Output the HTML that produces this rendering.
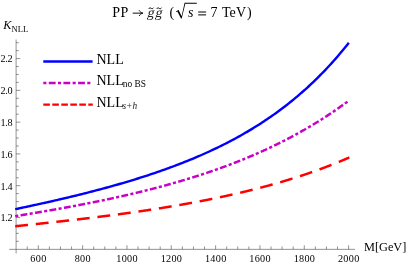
<!DOCTYPE html>
<html><head><meta charset="utf-8"><title>plot</title>
<style>html,body{margin:0;padding:0;background:#fff;overflow:hidden}body{width:407px;height:264px;position:relative;font-family:"Liberation Serif",serif}</style></head>
<body>
<svg width="407" height="264" viewBox="0 0 407 264" style="will-change:transform;position:absolute;left:0;top:0;font-family:'Liberation Serif',serif">
<rect width="407" height="264" fill="#fff"/>
<path d="M9.2,249.35 H355 M16.1,39.5 V253.5 M27.22,249.35 v-2.9 M38.30,249.35 v-4.1 M49.38,249.35 v-2.9 M60.46,249.35 v-2.9 M71.55,249.35 v-2.9 M82.63,249.35 v-4.1 M93.71,249.35 v-2.9 M104.79,249.35 v-2.9 M115.87,249.35 v-2.9 M126.96,249.35 v-4.1 M138.04,249.35 v-2.9 M149.12,249.35 v-2.9 M160.20,249.35 v-2.9 M171.28,249.35 v-4.1 M182.37,249.35 v-2.9 M193.45,249.35 v-2.9 M204.53,249.35 v-2.9 M215.61,249.35 v-4.1 M226.69,249.35 v-2.9 M237.78,249.35 v-2.9 M248.86,249.35 v-2.9 M259.94,249.35 v-4.1 M271.02,249.35 v-2.9 M282.10,249.35 v-2.9 M293.19,249.35 v-2.9 M304.27,249.35 v-4.1 M315.35,249.35 v-2.9 M326.43,249.35 v-2.9 M337.51,249.35 v-2.9 M348.60,249.35 v-4.1 M16.1,241.31 h2.65 M16.1,233.37 h2.65 M16.1,225.42 h2.65 M16.1,217.48 h4.15 M16.1,209.53 h2.65 M16.1,201.59 h2.65 M16.1,193.64 h2.65 M16.1,185.70 h4.15 M16.1,177.75 h2.65 M16.1,169.81 h2.65 M16.1,161.86 h2.65 M16.1,153.92 h4.15 M16.1,145.97 h2.65 M16.1,138.03 h2.65 M16.1,130.08 h2.65 M16.1,122.14 h4.15 M16.1,114.19 h2.65 M16.1,106.25 h2.65 M16.1,98.30 h2.65 M16.1,90.36 h4.15 M16.1,82.41 h2.65 M16.1,74.47 h2.65 M16.1,66.52 h2.65 M16.1,58.58 h4.15 M16.1,50.63 h2.65 M16.1,42.69 h2.65" fill="none" stroke="#505050" stroke-width="0.62"/>
<path d="M15.20,209.16 L16.87,208.81 L18.54,208.46 L20.20,208.11 L21.87,207.76 L23.54,207.41 L25.21,207.06 L26.88,206.71 L28.54,206.35 L30.21,205.99 L31.88,205.63 L33.55,205.27 L35.22,204.91 L36.88,204.55 L38.55,204.18 L40.22,203.82 L41.89,203.45 L43.56,203.08 L45.22,202.71 L46.89,202.34 L48.56,201.96 L50.23,201.59 L51.90,201.21 L53.56,200.83 L55.23,200.45 L56.90,200.06 L58.57,199.68 L60.24,199.29 L61.90,198.90 L63.57,198.51 L65.24,198.12 L66.91,197.72 L68.58,197.32 L70.24,196.92 L71.91,196.52 L73.58,196.12 L75.25,195.71 L76.92,195.30 L78.58,194.89 L80.25,194.48 L81.92,194.06 L83.59,193.65 L85.26,193.23 L86.92,192.80 L88.59,192.38 L90.26,191.95 L91.93,191.52 L93.60,191.09 L95.26,190.65 L96.93,190.21 L98.60,189.77 L100.27,189.33 L101.94,188.88 L103.60,188.43 L105.27,187.98 L106.94,187.53 L108.61,187.07 L110.28,186.61 L111.94,186.14 L113.61,185.67 L115.28,185.20 L116.95,184.73 L118.62,184.25 L120.28,183.77 L121.95,183.29 L123.62,182.80 L125.29,182.31 L126.96,181.81 L128.62,181.31 L130.29,180.81 L131.96,180.31 L133.63,179.80 L135.30,179.28 L136.96,178.77 L138.63,178.24 L140.30,177.72 L141.97,177.19 L143.64,176.65 L145.30,176.12 L146.97,175.57 L148.64,175.03 L150.31,174.48 L151.98,173.92 L153.64,173.36 L155.31,172.80 L156.98,172.23 L158.65,171.65 L160.32,171.07 L161.98,170.49 L163.65,169.90 L165.32,169.30 L166.99,168.70 L168.66,168.10 L170.32,167.49 L171.99,166.87 L173.66,166.25 L175.33,165.62 L177.00,164.99 L178.66,164.35 L180.33,163.71 L182.00,163.06 L183.67,162.40 L185.34,161.74 L187.00,161.07 L188.67,160.39 L190.34,159.71 L192.01,159.02 L193.68,158.33 L195.34,157.63 L197.01,156.92 L198.68,156.20 L200.35,155.48 L202.02,154.75 L203.68,154.01 L205.35,153.27 L207.02,152.51 L208.69,151.75 L210.36,150.99 L212.02,150.21 L213.69,149.43 L215.36,148.63 L217.03,147.83 L218.70,147.03 L220.36,146.21 L222.03,145.38 L223.70,144.55 L225.37,143.70 L227.04,142.85 L228.70,141.99 L230.37,141.12 L232.04,140.24 L233.71,139.34 L235.38,138.44 L237.04,137.53 L238.71,136.61 L240.38,135.68 L242.05,134.74 L243.72,133.79 L245.38,132.82 L247.05,131.85 L248.72,130.86 L250.39,129.87 L252.06,128.86 L253.72,127.84 L255.39,126.81 L257.06,125.76 L258.73,124.71 L260.40,123.64 L262.06,122.56 L263.73,121.46 L265.40,120.36 L267.07,119.24 L268.74,118.10 L270.40,116.95 L272.07,115.79 L273.74,114.62 L275.41,113.43 L277.08,112.22 L278.74,111.00 L280.41,109.77 L282.08,108.52 L283.75,107.25 L285.42,105.97 L287.08,104.68 L288.75,103.36 L290.42,102.03 L292.09,100.69 L293.76,99.32 L295.42,97.94 L297.09,96.55 L298.76,95.13 L300.43,93.70 L302.10,92.24 L303.76,90.77 L305.43,89.28 L307.10,87.77 L308.77,86.25 L310.44,84.70 L312.10,83.13 L313.77,81.54 L315.44,79.93 L317.11,78.30 L318.78,76.64 L320.44,74.97 L322.11,73.27 L323.78,71.55 L325.45,69.81 L327.12,68.04 L328.78,66.26 L330.45,64.44 L332.12,62.61 L333.79,60.74 L335.46,58.86 L337.12,56.94 L338.79,55.00 L340.46,53.04 L342.13,51.05 L343.80,49.03 L345.46,46.98 L347.13,44.91 L348.80,42.80" fill="none" stroke="#0000ff" stroke-width="2.4"/>
<path d="M15.20,216.19 L15.64,216.12 L16.07,216.05 L16.51,215.98 L16.95,215.91 L17.39,215.83 L17.82,215.76 L18.26,215.69 M20.58,215.31 L21.06,215.23 L21.55,215.15 L22.03,215.07 L22.51,214.99 L23.00,214.91 L23.48,214.83 L23.96,214.75 L24.45,214.67 L24.93,214.59 L25.41,214.51 L25.90,214.43 L26.38,214.35 L26.86,214.27 L27.35,214.19 M29.66,213.81 L30.10,213.73 L30.54,213.66 L30.98,213.59 L31.41,213.52 L31.85,213.44 L32.29,213.37 L32.72,213.30 M35.04,212.91 L35.52,212.83 L36.01,212.74 L36.49,212.66 L36.97,212.58 L37.46,212.50 L37.94,212.42 L38.42,212.34 L38.91,212.25 L39.39,212.17 L39.87,212.09 L40.35,212.01 L40.84,211.92 L41.32,211.84 L41.80,211.76 M44.12,211.36 L44.56,211.29 L44.99,211.21 L45.43,211.14 L45.87,211.06 L46.30,210.99 L46.74,210.91 L47.17,210.84 M49.49,210.43 L49.97,210.35 L50.46,210.27 L50.94,210.18 L51.42,210.10 L51.90,210.01 L52.39,209.93 L52.87,209.84 L53.35,209.76 L53.83,209.67 L54.32,209.59 L54.80,209.50 L55.28,209.42 L55.76,209.33 L56.25,209.25 M58.56,208.83 L59.00,208.76 L59.43,208.68 L59.87,208.60 L60.30,208.52 L60.74,208.44 L61.18,208.36 L61.61,208.29 M63.92,207.87 L64.41,207.78 L64.89,207.69 L65.37,207.60 L65.85,207.52 L66.33,207.43 L66.82,207.34 L67.30,207.25 L67.78,207.16 L68.26,207.07 L68.74,206.99 L69.23,206.90 L69.71,206.81 L70.19,206.72 L70.67,206.63 M72.98,206.20 L73.42,206.12 L73.85,206.04 L74.29,205.95 L74.72,205.87 L75.16,205.79 L75.59,205.71 L76.03,205.63 M78.34,205.19 L78.82,205.10 L79.30,205.00 L79.78,204.91 L80.26,204.82 L80.74,204.73 L81.22,204.64 L81.71,204.54 L82.19,204.45 L82.67,204.36 L83.15,204.26 L83.63,204.17 L84.11,204.08 L84.59,203.98 L85.07,203.89 M87.38,203.44 L87.81,203.35 L88.25,203.27 L88.68,203.18 L89.12,203.10 L89.55,203.01 L89.99,202.92 L90.42,202.84 M92.72,202.38 L93.20,202.28 L93.69,202.18 L94.17,202.09 L94.65,201.99 L95.13,201.89 L95.61,201.80 L96.09,201.70 L96.57,201.60 L97.05,201.50 L97.53,201.41 L98.01,201.31 L98.49,201.21 L98.97,201.11 L99.45,201.01 M101.75,200.54 L102.18,200.45 L102.62,200.36 L103.05,200.27 L103.48,200.18 L103.92,200.09 L104.35,199.99 L104.78,199.90 M107.08,199.42 L107.56,199.32 L108.04,199.21 L108.52,199.11 L109.00,199.01 L109.48,198.91 L109.96,198.81 L110.44,198.70 L110.92,198.60 L111.40,198.50 L111.87,198.39 L112.35,198.29 L112.83,198.19 L113.31,198.08 L113.79,197.98 M116.09,197.48 L116.52,197.38 L116.95,197.28 L117.38,197.19 L117.82,197.09 L118.25,197.00 L118.68,196.90 L119.11,196.81 M121.41,196.29 L121.88,196.19 L122.36,196.08 L122.84,195.97 L123.32,195.86 L123.80,195.75 L124.27,195.64 L124.75,195.54 L125.23,195.43 L125.71,195.32 L126.18,195.21 L126.66,195.10 L127.14,194.99 L127.62,194.88 L128.09,194.77 M130.38,194.24 L130.81,194.14 L131.25,194.03 L131.68,193.93 L132.11,193.83 L132.54,193.73 L132.97,193.63 L133.40,193.53 M135.69,192.98 L136.16,192.87 L136.64,192.76 L137.12,192.64 L137.59,192.53 L138.07,192.41 L138.55,192.30 L139.02,192.18 L139.50,192.07 L139.97,191.95 L140.45,191.83 L140.93,191.72 L141.40,191.60 L141.88,191.48 L142.35,191.37 M144.64,190.80 L145.06,190.70 L145.49,190.59 L145.92,190.48 L146.35,190.37 L146.78,190.27 L147.21,190.16 L147.64,190.05 M149.92,189.47 L150.40,189.35 L150.87,189.23 L151.34,189.11 L151.82,188.99 L152.29,188.86 L152.77,188.74 L153.24,188.62 L153.72,188.50 L154.19,188.37 L154.67,188.25 L155.14,188.13 L155.61,188.00 L156.09,187.88 L156.56,187.76 M158.83,187.16 L159.26,187.04 L159.69,186.93 L160.12,186.81 L160.55,186.70 L160.97,186.59 L161.40,186.47 L161.83,186.36 M164.10,185.74 L164.57,185.61 L165.04,185.48 L165.52,185.35 L165.99,185.23 L166.46,185.10 L166.93,184.97 L167.41,184.84 L167.88,184.70 L168.35,184.57 L168.82,184.44 L169.29,184.31 L169.77,184.18 L170.24,184.05 L170.71,183.92 M172.97,183.28 L173.40,183.16 L173.82,183.03 L174.25,182.91 L174.68,182.79 L175.10,182.67 L175.53,182.55 L175.95,182.43 M178.21,181.77 L178.68,181.64 L179.15,181.50 L179.62,181.36 L180.09,181.22 L180.56,181.08 L181.03,180.95 L181.50,180.81 L181.97,180.67 L182.44,180.53 L182.91,180.39 L183.38,180.25 L183.85,180.11 L184.32,179.97 L184.79,179.83 M187.04,179.15 L187.46,179.02 L187.88,178.89 L188.31,178.76 L188.73,178.63 L189.16,178.50 L189.58,178.37 L190.00,178.24 M192.25,177.54 L192.71,177.40 L193.18,177.25 L193.65,177.11 L194.12,176.96 L194.58,176.81 L195.05,176.66 L195.52,176.52 L195.99,176.37 L196.45,176.22 L196.92,176.07 L197.39,175.92 L197.85,175.77 L198.32,175.62 L198.79,175.47 M201.02,174.75 L201.44,174.61 L201.86,174.47 L202.28,174.33 L202.71,174.20 L203.13,174.06 L203.55,173.92 L203.97,173.78 M206.20,173.04 L206.66,172.88 L207.13,172.73 L207.59,172.57 L208.05,172.41 L208.52,172.26 L208.98,172.10 L209.45,171.94 L209.91,171.78 L210.37,171.63 L210.84,171.47 L211.30,171.31 L211.76,171.15 L212.23,170.99 L212.69,170.83 M214.91,170.06 L215.33,169.91 L215.75,169.76 L216.16,169.62 L216.58,169.47 L217.00,169.32 L217.42,169.17 L217.83,169.03 M220.05,168.24 L220.51,168.07 L220.97,167.90 L221.43,167.74 L221.89,167.57 L222.35,167.40 L222.81,167.23 L223.27,167.07 L223.73,166.90 L224.19,166.73 L224.65,166.56 L225.11,166.39 L225.57,166.22 L226.03,166.05 L226.49,165.88 M228.69,165.06 L229.11,164.90 L229.52,164.74 L229.93,164.59 L230.35,164.43 L230.76,164.27 L231.18,164.12 L231.59,163.96 M233.78,163.11 L234.24,162.94 L234.70,162.76 L235.15,162.58 L235.61,162.41 L236.07,162.23 L236.52,162.05 L236.98,161.87 L237.43,161.69 L237.89,161.51 L238.35,161.33 L238.80,161.15 L239.26,160.97 L239.71,160.79 L240.17,160.60 M242.35,159.73 L242.76,159.56 L243.17,159.39 L243.58,159.23 L243.99,159.06 L244.40,158.89 L244.81,158.72 L245.22,158.56 M247.39,157.66 L247.84,157.47 L248.29,157.28 L248.75,157.09 L249.20,156.90 L249.65,156.71 L250.10,156.52 L250.55,156.33 L251.00,156.14 L251.45,155.95 L251.91,155.76 L252.36,155.56 L252.81,155.37 L253.26,155.18 L253.71,154.98 M255.86,154.05 L256.27,153.87 L256.67,153.70 L257.08,153.52 L257.49,153.34 L257.89,153.16 L258.30,152.98 L258.70,152.80 M260.85,151.85 L261.30,151.65 L261.74,151.45 L262.19,151.24 L262.64,151.04 L263.08,150.84 L263.53,150.64 L263.97,150.43 L264.42,150.23 L264.87,150.03 L265.31,149.82 L265.76,149.62 L266.20,149.41 L266.65,149.21 L267.09,149.00 M269.22,148.01 L269.62,147.82 L270.02,147.63 L270.42,147.44 L270.82,147.25 L271.22,147.06 L271.62,146.87 L272.02,146.68 M274.14,145.67 L274.58,145.45 L275.02,145.24 L275.46,145.03 L275.90,144.81 L276.34,144.60 L276.79,144.38 L277.22,144.17 L277.66,143.95 L278.10,143.73 L278.54,143.52 L278.98,143.30 L279.42,143.08 L279.86,142.86 L280.30,142.64 M282.40,141.59 L282.79,141.39 L283.19,141.19 L283.58,140.99 L283.98,140.79 L284.37,140.58 L284.77,140.38 L285.16,140.18 M287.25,139.10 L287.68,138.87 L288.12,138.65 L288.55,138.42 L288.99,138.19 L289.42,137.97 L289.85,137.74 L290.29,137.51 L290.72,137.28 L291.15,137.05 L291.58,136.82 L292.02,136.59 L292.45,136.36 L292.88,136.13 L293.31,135.89 M295.38,134.77 L295.77,134.56 L296.16,134.35 L296.54,134.14 L296.93,133.92 L297.32,133.71 L297.71,133.50 L298.10,133.28 M300.15,132.14 L300.58,131.90 L301.00,131.66 L301.43,131.42 L301.86,131.18 L302.28,130.94 L302.71,130.70 L303.14,130.45 L303.56,130.21 L303.99,129.97 L304.41,129.72 L304.84,129.48 L305.26,129.24 L305.69,128.99 L306.11,128.74 M308.14,127.56 L308.52,127.34 L308.90,127.11 L309.29,126.89 L309.67,126.66 L310.05,126.44 L310.43,126.21 L310.81,125.98 M312.82,124.78 L313.24,124.52 L313.66,124.27 L314.08,124.01 L314.50,123.76 L314.92,123.50 L315.34,123.25 L315.76,122.99 L316.17,122.74 L316.59,122.48 L317.01,122.22 L317.42,121.97 L317.84,121.71 L318.26,121.45 L318.67,121.19 M320.66,119.94 L321.04,119.70 L321.41,119.47 L321.79,119.23 L322.16,118.99 L322.53,118.75 L322.91,118.51 L323.28,118.28 M325.25,117.00 L325.66,116.74 L326.07,116.47 L326.49,116.20 L326.90,115.93 L327.30,115.66 L327.71,115.39 L328.12,115.12 L328.53,114.85 L328.94,114.58 L329.35,114.31 L329.76,114.04 L330.16,113.77 L330.57,113.50 L330.98,113.22 M332.93,111.91 L333.29,111.66 L333.66,111.41 L334.02,111.16 L334.39,110.91 L334.76,110.66 L335.12,110.41 L335.49,110.16 M337.42,108.82 L337.82,108.54 L338.22,108.26 L338.62,107.98 L339.02,107.69 L339.42,107.41 L339.82,107.13 L340.22,106.85 L340.62,106.56 L341.02,106.28 L341.42,105.99 L341.82,105.71 L342.22,105.42 L342.61,105.14 L343.01,104.85 M344.91,103.47 L345.27,103.21 L345.63,102.95 L345.99,102.69 L346.34,102.42 L346.70,102.16 L347.06,101.90 L347.41,101.63" fill="none" stroke="#c800c8" stroke-width="2.5"/>
<path d="M15.20,226.25 L15.69,226.20 L16.18,226.15 L16.67,226.10 L17.17,226.04 L17.66,225.99 L18.15,225.94 L18.64,225.89 L19.13,225.84 L19.62,225.79 L20.12,225.74 L20.61,225.68 L21.10,225.63 L21.59,225.58 L22.08,225.53 L22.57,225.48 L23.06,225.43 L23.56,225.37 L24.05,225.32 L24.54,225.27 L25.03,225.22 L25.52,225.17 L26.01,225.11 L26.51,225.06 L27.00,225.01 L27.49,224.96 L27.98,224.91 M35.78,224.08 L36.27,224.03 L36.76,223.98 L37.25,223.92 L37.74,223.87 L38.23,223.82 L38.72,223.77 L39.22,223.71 L39.71,223.66 L40.20,223.61 L40.69,223.56 L41.18,223.50 L41.67,223.45 L42.16,223.40 L42.66,223.34 L43.15,223.29 L43.64,223.24 L44.13,223.19 L44.62,223.13 L45.11,223.08 L45.60,223.03 L46.10,222.97 L46.59,222.92 L47.08,222.87 L47.57,222.81 L48.06,222.76 L48.55,222.71 M56.35,221.85 L56.84,221.80 L57.33,221.74 L57.82,221.69 L58.31,221.63 L58.80,221.58 L59.29,221.52 L59.78,221.47 L60.28,221.41 L60.77,221.36 L61.26,221.30 L61.75,221.25 L62.24,221.19 L62.73,221.14 L63.22,221.08 L63.71,221.03 L64.20,220.97 L64.70,220.92 L65.19,220.86 L65.68,220.81 L66.17,220.75 L66.66,220.70 L67.15,220.64 L67.64,220.58 L68.13,220.53 L68.62,220.47 L69.12,220.42 M76.90,219.52 L77.39,219.46 L77.89,219.40 L78.38,219.34 L78.87,219.29 L79.36,219.23 L79.85,219.17 L80.34,219.11 L80.83,219.06 L81.32,219.00 L81.81,218.94 L82.30,218.88 L82.79,218.82 L83.28,218.76 L83.77,218.71 L84.27,218.65 L84.76,218.59 L85.25,218.53 L85.74,218.47 L86.23,218.41 L86.72,218.35 L87.21,218.29 L87.70,218.23 L88.19,218.18 L88.68,218.12 L89.17,218.06 L89.66,218.00 M97.44,217.04 L97.93,216.98 L98.43,216.92 L98.92,216.86 L99.41,216.79 L99.90,216.73 L100.39,216.67 L100.88,216.61 L101.37,216.55 L101.86,216.49 L102.35,216.42 L102.84,216.36 L103.33,216.30 L103.82,216.24 L104.31,216.17 L104.80,216.11 L105.29,216.05 L105.78,215.99 L106.27,215.92 L106.76,215.86 L107.25,215.80 L107.74,215.73 L108.23,215.67 L108.72,215.61 L109.21,215.54 L109.70,215.48 L110.19,215.42 M117.96,214.39 L118.45,214.32 L118.94,214.26 L119.43,214.19 L119.92,214.12 L120.41,214.06 L120.90,213.99 L121.39,213.92 L121.88,213.86 L122.37,213.79 L122.86,213.72 L123.35,213.66 L123.84,213.59 L124.33,213.52 L124.82,213.46 L125.31,213.39 L125.80,213.32 L126.29,213.25 L126.78,213.19 L127.27,213.12 L127.76,213.05 L128.25,212.98 L128.74,212.91 L129.23,212.84 L129.72,212.78 L130.20,212.71 L130.69,212.64 M138.45,211.53 L138.94,211.46 L139.43,211.38 L139.92,211.31 L140.41,211.24 L140.90,211.17 L141.39,211.10 L141.88,211.03 L142.37,210.95 L142.86,210.88 L143.34,210.81 L143.83,210.74 L144.32,210.66 L144.81,210.59 L145.30,210.52 L145.79,210.44 L146.28,210.37 L146.77,210.30 L147.25,210.22 L147.74,210.15 L148.23,210.08 L148.72,210.00 L149.21,209.93 L149.70,209.85 L150.19,209.78 L150.68,209.70 L151.16,209.63 M158.91,208.42 L159.40,208.34 L159.89,208.27 L160.37,208.19 L160.86,208.11 L161.35,208.03 L161.84,207.95 L162.33,207.87 L162.81,207.80 L163.30,207.72 L163.79,207.64 L164.28,207.56 L164.77,207.48 L165.25,207.40 L165.74,207.32 L166.23,207.24 L166.72,207.16 L167.20,207.08 L167.69,207.00 L168.18,206.92 L168.67,206.84 L169.16,206.76 L169.64,206.68 L170.13,206.60 L170.62,206.52 L171.11,206.43 L171.59,206.35 M179.32,205.03 L179.81,204.95 L180.29,204.86 L180.78,204.78 L181.27,204.69 L181.75,204.61 L182.24,204.52 L182.73,204.44 L183.22,204.35 L183.70,204.26 L184.19,204.18 L184.67,204.09 L185.16,204.00 L185.65,203.92 L186.13,203.83 L186.62,203.74 L187.11,203.65 L187.59,203.57 L188.08,203.48 L188.57,203.39 L189.05,203.30 L189.54,203.21 L190.03,203.12 L190.51,203.04 L191.00,202.95 L191.48,202.86 L191.97,202.77 M199.67,201.32 L200.16,201.23 L200.65,201.13 L201.13,201.04 L201.62,200.95 L202.10,200.85 L202.59,200.76 L203.07,200.67 L203.56,200.57 L204.04,200.48 L204.53,200.38 L205.01,200.29 L205.50,200.19 L205.98,200.09 L206.47,200.00 L206.95,199.90 L207.44,199.81 L207.92,199.71 L208.41,199.61 L208.89,199.52 L209.37,199.42 L209.86,199.32 L210.34,199.22 L210.83,199.13 L211.31,199.03 L211.80,198.93 L212.28,198.83 M219.96,197.24 L220.44,197.14 L220.92,197.03 L221.41,196.93 L221.89,196.83 L222.37,196.72 L222.86,196.62 L223.34,196.52 L223.82,196.41 L224.31,196.31 L224.79,196.20 L225.27,196.10 L225.76,195.99 L226.24,195.89 L226.72,195.78 L227.20,195.68 L227.69,195.57 L228.17,195.46 L228.65,195.36 L229.14,195.25 L229.62,195.14 L230.10,195.04 L230.58,194.93 L231.06,194.82 L231.55,194.71 L232.03,194.60 L232.51,194.50 M240.15,192.74 L240.63,192.62 L241.11,192.51 L241.59,192.40 L242.08,192.28 L242.56,192.17 L243.04,192.05 L243.52,191.94 L244.00,191.82 L244.48,191.71 L244.96,191.59 L245.44,191.48 L245.92,191.36 L246.40,191.25 L246.88,191.13 L247.36,191.01 L247.84,190.89 L248.32,190.78 L248.80,190.66 L249.28,190.54 L249.76,190.42 L250.24,190.30 L250.72,190.18 L251.20,190.07 L251.68,189.95 L252.16,189.83 L252.64,189.71 M260.23,187.76 L260.71,187.64 L261.19,187.51 L261.67,187.38 L262.15,187.26 L262.62,187.13 L263.10,187.01 L263.58,186.88 L264.06,186.75 L264.53,186.62 L265.01,186.50 L265.49,186.37 L265.97,186.24 L266.44,186.11 L266.92,185.98 L267.40,185.85 L267.87,185.72 L268.35,185.59 L268.83,185.46 L269.30,185.33 L269.78,185.20 L270.26,185.07 L270.73,184.94 L271.21,184.80 L271.69,184.67 L272.16,184.54 L272.64,184.41 M280.18,182.25 L280.65,182.11 L281.13,181.98 L281.60,181.84 L282.07,181.70 L282.55,181.56 L283.02,181.42 L283.50,181.28 L283.97,181.13 L284.44,180.99 L284.92,180.85 L285.39,180.71 L285.86,180.57 L286.34,180.42 L286.81,180.28 L287.28,180.14 L287.75,179.99 L288.23,179.85 L288.70,179.71 L289.17,179.56 L289.64,179.42 L290.12,179.27 L290.59,179.12 L291.06,178.98 L291.53,178.83 L292.01,178.68 L292.48,178.54 M299.95,176.15 L300.42,176.00 L300.88,175.84 L301.35,175.69 L301.82,175.53 L302.29,175.38 L302.76,175.22 L303.23,175.07 L303.70,174.91 L304.17,174.76 L304.64,174.60 L305.11,174.44 L305.57,174.28 L306.04,174.13 L306.51,173.97 L306.98,173.81 L307.45,173.65 L307.91,173.49 L308.38,173.33 L308.85,173.17 L309.32,173.01 L309.78,172.85 L310.25,172.69 L310.72,172.52 L311.19,172.36 L311.65,172.20 L312.12,172.04 M319.50,169.39 L319.96,169.22 L320.43,169.05 L320.89,168.88 L321.36,168.71 L321.82,168.54 L322.28,168.37 L322.75,168.20 L323.21,168.02 L323.67,167.85 L324.13,167.68 L324.60,167.50 L325.06,167.33 L325.52,167.15 L325.98,166.98 L326.45,166.80 L326.91,166.63 L327.37,166.45 L327.83,166.27 L328.29,166.10 L328.75,165.92 L329.21,165.74 L329.67,165.56 L330.14,165.38 L330.60,165.20 L331.06,165.02 L331.52,164.84 M338.79,161.92 L339.25,161.73 L339.71,161.55 L340.17,161.36 L340.63,161.17 L341.09,160.98 L341.54,160.79 L342.00,160.60 L342.46,160.40 L342.92,160.21 L343.37,160.02 L343.83,159.83 L344.29,159.63 L344.74,159.44 L345.20,159.25 L345.66,159.05 L346.11,158.86 L346.57,158.66 L347.02,158.46 L347.48,158.27 L347.94,158.07 L348.39,157.87 L348.85,157.68 L349.30,157.48" fill="none" stroke="#ff0000" stroke-width="2.5"/>
<text x="38.45" y="261.6" font-size="10.2" text-anchor="middle" letter-spacing="0.3">600</text>
<text x="82.78" y="261.6" font-size="10.2" text-anchor="middle" letter-spacing="0.3">800</text>
<text x="127.11" y="261.6" font-size="10.2" text-anchor="middle" letter-spacing="0.3">1000</text>
<text x="171.43" y="261.6" font-size="10.2" text-anchor="middle" letter-spacing="0.3">1200</text>
<text x="215.76" y="261.6" font-size="10.2" text-anchor="middle" letter-spacing="0.3">1400</text>
<text x="260.09" y="261.6" font-size="10.2" text-anchor="middle" letter-spacing="0.3">1600</text>
<text x="304.42" y="261.6" font-size="10.2" text-anchor="middle" letter-spacing="0.3">1800</text>
<text x="348.75" y="261.6" font-size="10.2" text-anchor="middle" letter-spacing="0.3">2000</text>
<text x="12.5" y="221.38" font-size="10.2" text-anchor="end" dx="0 -0.35 -0.3">1.2</text>
<text x="12.5" y="189.60" font-size="10.2" text-anchor="end" dx="0 -0.35 -0.3">1.4</text>
<text x="12.5" y="157.82" font-size="10.2" text-anchor="end" dx="0 -0.35 -0.3">1.6</text>
<text x="12.5" y="126.04" font-size="10.2" text-anchor="end" dx="0 -0.35 -0.3">1.8</text>
<text x="12.5" y="94.26" font-size="10.2" text-anchor="end" dx="0 -0.35 -0.3">2.0</text>
<text x="12.5" y="62.48" font-size="10.2" text-anchor="end" dx="0 -0.35 -0.3">2.2</text>
<text x="364.0" y="251.4" font-size="12.3">M[GeV]</text>
<text x="3.2" y="29" font-size="12.2" font-style="italic">K</text>
<text x="11.6" y="31.5" font-size="8.5">NLL</text>
<text x="112.3" y="17" font-size="14" letter-spacing="0.4">PP</text>
<path d="M132.7,13.15 H142.6" stroke="#000" stroke-width="0.95" fill="none"/>
<path d="M139.3,10.6 C140.0,11.9 141.2,12.8 142.9,13.15 C141.2,13.5 140.0,14.4 139.3,15.7" stroke="#000" stroke-width="0.9" fill="none" stroke-linecap="round"/>
<text transform="translate(146.8,17) skewX(-14)" font-size="13.8" fill="#1a1a1a">g</text>
<path d="M148.70000000000002,8.9 c0.8,-1.3 1.6,-1.2 2.4,-0.6 c0.8,0.6 1.6,0.7 2.4,-0.6" stroke="#000" stroke-width="1.0" fill="none"/>
<text transform="translate(154.8,17) skewX(-14)" font-size="13.8" fill="#1a1a1a">g</text>
<path d="M156.70000000000002,8.9 c0.8,-1.3 1.6,-1.2 2.4,-0.6 c0.8,0.6 1.6,0.7 2.4,-0.6" stroke="#000" stroke-width="1.0" fill="none"/>
<text x="169.4" y="17" font-size="14">(</text>
<path d="M176.0,11.3 L178.6,9.9 L181.6,16.2 L184.6,2.8 L196.8,2.8 L196.8,3.7 L185.3,3.7 L181.7,18.6 L181.0,18.6 L177.4,11.4 L176.3,12.0 Z" fill="#000"/>
<text x="187.9" y="17" font-size="14" font-style="italic">s</text>
<path d="M198.2,12.0 H206.1 M198.2,14.9 H206.1" stroke="#000" stroke-width="1.0" fill="none"/>
<text x="210.4" y="17" font-size="14">7</text>
<text x="221.9" y="17" font-size="14" letter-spacing="0.15">TeV</text>
<text x="247.0" y="17" font-size="14">)</text>
<path d="M43.3,61.5 H92.6" stroke="#0000ff" stroke-width="2.3" fill="none"/>
<path d="M43.3,83.0 H90.6" stroke="#c800c8" stroke-width="2.3" fill="none" stroke-dasharray="3.1 2.35 6.86 2.35"/>
<path d="M43.3,104.6 H92.8" stroke="#ff0000" stroke-width="2.3" fill="none" stroke-dasharray="6.6 2.4"/>
<text x="96.5" y="64.0" font-size="14">NLL</text>
<text x="96.5" y="84.8" font-size="14">NLL</text>
<text x="96.5" y="106.5" font-size="14">NLL</text>
<text x="122.7" y="87.4" font-size="9.4">no BS</text>
<text x="122.5" y="108.9" font-size="9.3" font-style="italic" fill="#222">s+h</text>
</svg>
</body></html>
